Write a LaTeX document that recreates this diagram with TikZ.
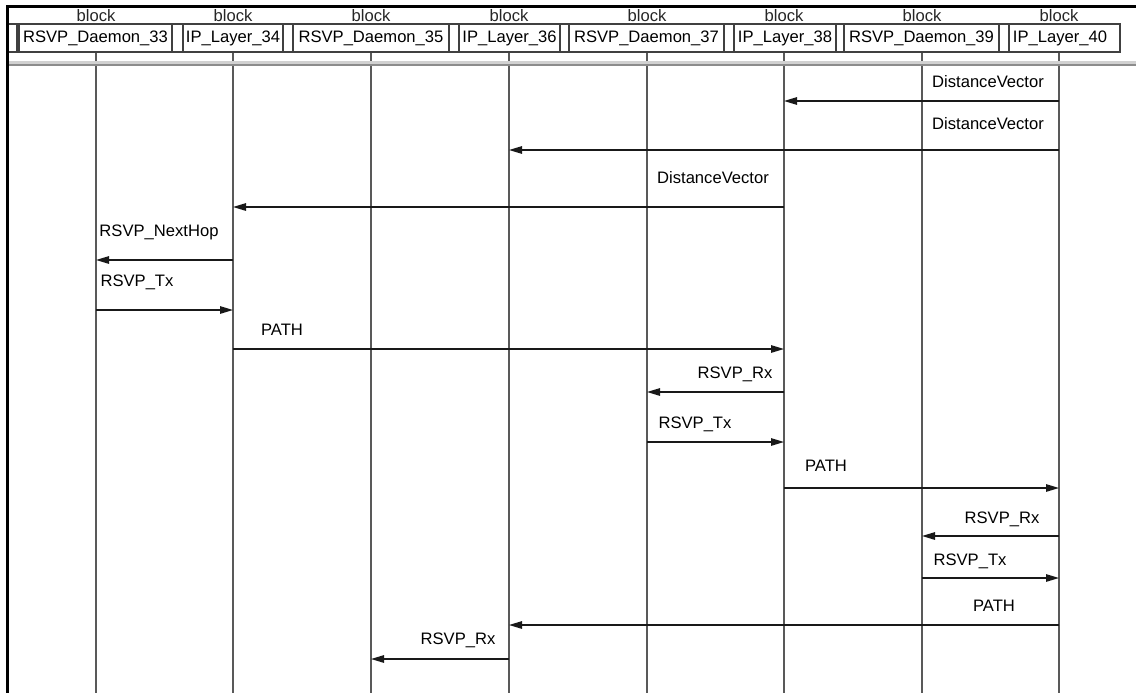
\documentclass[tikz,border=0pt]{standalone}
\usepackage{fontspec}
\setmainfont{Liberation Sans}
\usetikzlibrary{arrows.meta}
\begin{document}
\begin{tikzpicture}[x=1pt,y=-1pt,
  frameline/.style={line width=2.2pt, black},
  stripline/.style={line width=1.1pt, black!75},
  modbox/.style={draw=black!75, line width=1.1pt, minimum height=28pt, inner sep=0pt, font=\fontsize{16.6}{18}\selectfont},
  blocklbl/.style={inner sep=0pt, font=\fontsize{16.6}{18}\selectfont, text=black!85},
  lifeline/.style={draw=black!65, line width=1.8pt},
  msg/.style={draw=black!90, line width=1.3pt, -{Triangle[length=13pt,width=7.5pt]}},
  lbl/.style={inner sep=0pt, font=\fontsize{16.6}{18}\selectfont}
]
\useasboundingbox (0,0) rectangle (1136,693);
\fill[white] (0,0) rectangle (1136,693);

% lifeline coordinates
\foreach \i/\x in {1/96,2/233,3/371,4/509,5/647,6/784,7/922,8/1059}{
  \coordinate (t\i) at (\x,52);
  \coordinate (e\i) at (\x,693);
}
\foreach \i in {1,...,8}{ \draw[lifeline] (t\i) -- (e\i); }

% gray separator band
\fill[black!18] (8,61.5) rectangle (1136,64);
\fill[black!45] (8,64) rectangle (1136,66.5);

% header strip
\coordinate (hs1) at (8,24);
\coordinate (hs2) at (1120,24);
\coordinate (hs3) at (8,52);
\coordinate (hs4) at (1120,52);
\draw[stripline] (hs1) -- (hs2);
\draw[stripline] (hs3) -- (hs4);
\coordinate (g1) at (17,24);
\coordinate (g2) at (17,52);
\draw[stripline] (g1) -- (g2);

% module boxes
\node[modbox, minimum width=153pt] (b1) at (95.5,38) {RSVP\_Daemon\_33};
\node[modbox, minimum width=100pt] (b2) at (233,38) {IP\_Layer\_34};
\node[modbox, minimum width=156pt] (b3) at (371,38) {RSVP\_Daemon\_35};
\node[modbox, minimum width=101pt] (b4) at (509.5,38) {IP\_Layer\_36};
\node[modbox, minimum width=155pt] (b5) at (646.5,38) {RSVP\_Daemon\_37};
\node[modbox, minimum width=102pt] (b6) at (785,38) {IP\_Layer\_38};
\node[modbox, minimum width=155pt] (b7) at (921.5,38) {RSVP\_Daemon\_39};
\node[modbox, minimum width=111pt] (b8) at (1064.5,38) {\hspace*{-9pt}IP\_Layer\_40};

% block labels
\foreach \i/\x in {1/96,2/233,3/371,4/509,5/647,6/784,7/922,8/1059}{
  \node[blocklbl] (k\i) at (\x,16) {block};
}

% outer frame
\coordinate (f1) at (7.5,693);
\coordinate (f2) at (7.5,6.5);
\coordinate (f3) at (1136,6.5);
\draw[frameline] (f1) -- (f2) -- (f3);

% messages
\foreach \n/\y in {1/101,2/150,3/207,4/260,5/310,6/349,7/392,8/442,9/488,10/536,11/578,12/625,13/659}{
  \coordinate (m\n) at (0,\y);
}
\draw[msg] (t8 |- m1) -- (t6 |- m1);
\draw[msg] (t8 |- m2) -- (t4 |- m2);
\draw[msg] (t6 |- m3) -- (t2 |- m3);
\draw[msg] (t2 |- m4) -- (t1 |- m4);
\draw[msg] (t1 |- m5) -- (t2 |- m5);
\draw[msg] (t2 |- m6) -- (t6 |- m6);
\draw[msg] (t6 |- m7) -- (t5 |- m7);
\draw[msg] (t5 |- m8) -- (t6 |- m8);
\draw[msg] (t6 |- m9) -- (t8 |- m9);
\draw[msg] (t8 |- m10) -- (t7 |- m10);
\draw[msg] (t7 |- m11) -- (t8 |- m11);
\draw[msg] (t8 |- m12) -- (t4 |- m12);
\draw[msg] (t4 |- m13) -- (t3 |- m13);

% labels
\node[lbl] (l1) at (988,82) {DistanceVector};
\node[lbl] (l2) at (988,124) {DistanceVector};
\node[lbl] (l3) at (713,178) {DistanceVector};
\node[lbl] (l4) at (159,232) {RSVP\_NextHop};
\node[lbl] (l5) at (137,282) {RSVP\_Tx};
\node[lbl] (l6) at (282,330) {PATH};
\node[lbl] (l7) at (735,374) {RSVP\_Rx};
\node[lbl] (l8) at (695,424) {RSVP\_Tx};
\node[lbl] (l9) at (826,466) {PATH};
\node[lbl] (l10) at (1002,519) {RSVP\_Rx};
\node[lbl] (l11) at (970,561) {RSVP\_Tx};
\node[lbl] (l12) at (994,606) {PATH};
\node[lbl] (l13) at (458,640) {RSVP\_Rx};
\end{tikzpicture}
\end{document}
